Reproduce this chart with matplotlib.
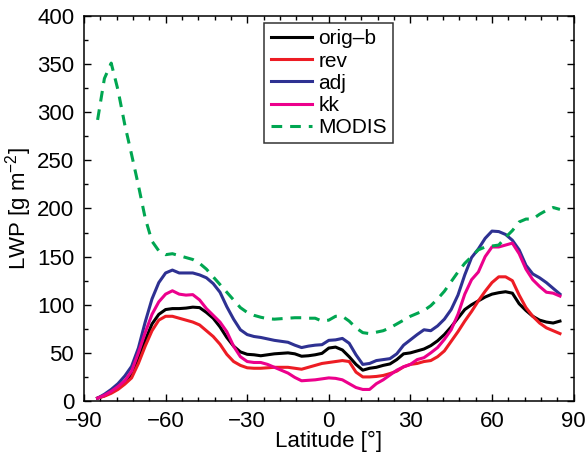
import matplotlib
matplotlib.use("Agg")
import matplotlib.pyplot as plt
from matplotlib.ticker import MultipleLocator

plt.rcParams['font.family'] = ['Liberation Sans', 'DejaVu Sans']
plt.rcParams['mathtext.fontset'] = 'custom'
plt.rcParams['mathtext.rm'] = 'Liberation Sans'
plt.rcParams['mathtext.it'] = 'Liberation Sans:italic'

# latitude grid, -85 .. 85 every 2.5 deg
lat = [-85, -82.5, -80, -77.5, -75, -72.5, -70, -67.5, -65, -62.5,
       -60, -57.5, -55, -52.5, -50, -47.5, -45, -42.5, -40, -37.5,
       -35, -32.5, -30, -27.5, -25, -22.5, -20, -17.5, -15, -12.5,
       -10, -7.5, -5, -2.5, 0, 2.5, 5, 7.5, 10, 12.5,
       15, 17.5, 20, 22.5, 25, 27.5, 30, 32.5, 35, 37.5,
       40, 42.5, 45, 47.5, 50, 52.5, 55, 57.5, 60, 62.5,
       65, 67.5, 70, 72.5, 75, 77.5, 80, 82.5, 85]

orig_b = [3, 5.5, 9, 13.5, 20, 27, 43, 63, 80, 90,
          95, 96, 96, 96.5, 97.5, 97, 92, 86, 77, 66,
          57, 51, 48.5, 48, 47, 48, 49, 49.5, 50, 49,
          46.5, 47, 48, 49.5, 55, 56, 53, 46, 38, 32,
          34, 35, 37, 38.5, 43, 49, 50, 52, 54, 57.5,
          62.5, 69, 77, 86, 95, 100, 104, 108, 111, 112.5,
          113.5, 112, 101, 94, 88, 84, 82, 81, 83]

rev = [3, 5, 8, 12, 17.5, 24, 39, 57, 73, 84,
       88, 88, 86, 84, 82, 79, 73, 67, 59, 48.5,
       41, 37, 34.5, 34, 34, 34.5, 35, 35, 35, 34,
       33, 35, 37, 39, 40, 41, 42, 41, 30, 25,
       25, 25.5, 26.5, 28.5, 31, 35.5, 38, 39, 41, 42,
       46, 52, 62, 72, 83, 93, 104, 114, 123, 129,
       129, 125, 110, 97, 88, 81, 76, 73, 70]

adj = [3, 7, 12, 18, 26, 36, 55, 82, 106, 123,
       133, 136, 133, 133, 133, 131, 128, 122, 113, 98,
       85, 74, 69, 67, 66, 64.5, 63, 62, 61, 58,
       55.5, 57, 58, 58.5, 63, 63.5, 65, 60, 48, 38,
       39, 42, 43, 44, 49, 58, 63.5, 69, 74, 73,
       78, 85, 95, 110, 131, 149, 158, 169, 176.5, 176,
       173, 167, 157, 141, 132, 128, 123, 117, 111]

kk = [3, 6, 10, 15, 21, 31, 50, 71, 90, 103,
      111, 114.5, 111, 110, 110.5, 105, 96, 89, 82, 72,
      57, 46, 41, 40, 40, 38, 35, 32, 29, 24.5,
      21, 21.5, 22, 23, 24, 23.5, 22, 18, 14, 12,
      12, 18, 22, 27, 32, 35.5, 38, 43, 45, 50,
      55.5, 64, 74, 90, 111, 126, 134, 150, 160, 160,
      162, 164, 153, 137, 126, 119, 113, 112, 109]

modis = [292, 335, 351, 323, 287, 256, 224, 190, 166, 156,
         152, 153, 151, 149, 147, 143, 137, 129, 121, 113,
         105, 97, 92, 89, 87, 85.5, 85, 85.5, 86, 86.5,
         86.5, 86, 86, 83, 84, 88, 88, 83, 76, 71,
         70, 71.5, 73, 76, 80, 84, 88, 91, 94, 99,
         106, 114, 124, 134, 143, 150, 157, 160, 161, 162,
         170, 177, 186, 189, 189, 194, 198, 201, 199]

fig = plt.figure(figsize=(5.87, 4.53), dpi=100)
ax = fig.add_axes([0.1431, 0.1148, 0.834, 0.850])

lw = 2.2
ax.plot(lat, orig_b, color='black', lw=lw, label='orig\u2013b')
ax.plot(lat, rev, color='#ed1c24', lw=lw, label='rev')
ax.plot(lat, adj, color='#2e3192', lw=lw, label='adj')
ax.plot(lat, kk, color='#ec008c', lw=lw, label='kk')
ax.plot(lat, modis, color='#00a651', lw=lw, ls=(0, (3.5, 2.6)), label='MODIS')

ax.set_xlim(-90, 90)
ax.set_ylim(0, 400)
ax.set_xticks([-90, -60, -30, 0, 30, 60, 90])
ax.set_yticks(range(0, 401, 50))
ax.xaxis.set_minor_locator(MultipleLocator(6))
ax.yaxis.set_minor_locator(MultipleLocator(25))
ax.tick_params(which='both', direction='in', top=True, right=True, width=1.0,
               labelsize=16)
ax.tick_params(which='major', length=5)
ax.tick_params(which='minor', length=3)
ax.tick_params(axis='x', pad=7.5)
ax.tick_params(axis='y', pad=7)
for s in ax.spines.values():
    s.set_linewidth(1.1)

ax.set_xlabel('Latitude [\u00b0]', fontsize=16, labelpad=-1)
ax.set_ylabel(r'LWP [g m$^{-2}$]', fontsize=16, labelpad=2)

leg = ax.legend(loc='upper center', fontsize=15, frameon=True, fancybox=False,
                edgecolor='black', handlelength=2.0, handletextpad=0.3,
                labelspacing=0.15, borderpad=0.3, borderaxespad=0.35)
leg.get_frame().set_linewidth(1.1)

fig.savefig('out.png', dpi=100)
